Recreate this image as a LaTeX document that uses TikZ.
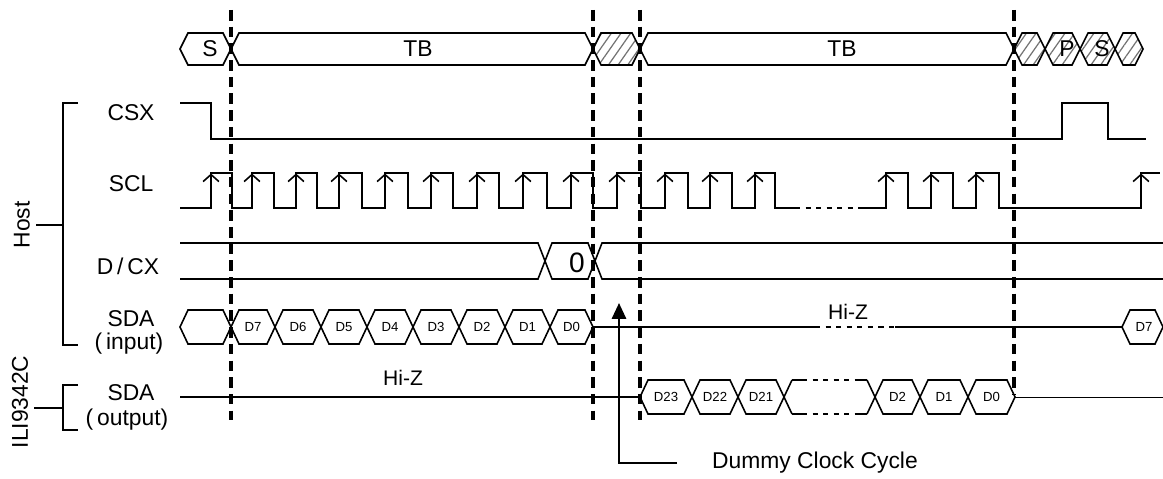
\documentclass[tikz,border=0pt]{standalone}
\usepackage{fontspec}
\setmainfont{Liberation Sans}
\usetikzlibrary{arrows.meta,patterns.meta}

\tikzset{
  wave/.style={line width=0.9pt},
  cut/.style={line width=2pt,dash pattern=on 6pt off 3.5pt},
  hatch/.style={pattern={Lines[angle=55,distance=4.5pt,line width=0.7pt]},pattern color=black!55},
  sig/.style={font=\fontsize{13}{15}\selectfont},
  bit/.style={font=\fontsize{7.5}{9}\selectfont},
  hiz/.style={font=\fontsize{12}{14}\selectfont},
}
\newcommand{\busbox}[5][]{\draw[wave,#1] (#2,#4) -- ++(8,-#5) -- (#3-8,#4-#5) -- (#3,#4) -- (#3-8,#4+#5) -- (#2+8,#4+#5) -- cycle;}

\begin{document}
\begin{tikzpicture}[x=0.02cm,y=-0.02cm]
\useasboundingbox (0,0) rectangle (1163,479);

  \node[sig] (csx) at (131,113) {CSX};
  \node[sig] (scl) at (131,184) {SCL};
  \node[sig] (dcx) at (128,266) {D\,/\,CX};
  \node[sig] (sdai) at (131,319) {SDA};
  \node[sig] (inp) at (129,344) {(\,input)};
  \node[sig] (sdao) at (131,393) {SDA};
  \node[sig] (outp) at (127,420) {(\,output)};
 \node[sig,rotate=90] (host) at (22,225) {Host};
 \node[sig,rotate=90] (ili) at (20,402) {ILI9342C};
 \coordinate (hb) at (63,225);
 \coordinate (ib) at (63,408);
\draw[wave] (78,103) -- (63,103) -- (63,345) -- (78,345);
\draw[wave] (78,385) -- (63,385) -- (63,430) -- (78,430);
\draw[wave] (host.south) -- (hb);
\draw[wave] (ili.south |- ib) -- (ib);

\busbox{180}{231}{49}{16}
\busbox{231}{593}{49}{16}
\busbox[hatch]{593}{640}{49}{16}
\busbox{640}{1014}{49}{16}
\busbox[hatch]{1014}{1045}{49}{16}
\busbox[hatch]{1045}{1080}{49}{16}
\busbox[hatch]{1080}{1115}{49}{16}
\busbox[hatch]{1115}{1143}{49}{16}
  \node[sig] (s1) at (210,49) {S};
  \node[sig] (tb1) at (418,49) {TB};
  \node[sig] (tb2) at (842,49) {TB};
  \node[sig] (p1) at (1067,49) {P};
  \node[sig] (s2) at (1102,49) {S};

\draw[wave] (180,103) -- (211,103) -- (211,139) -- (1062,139) -- (1062,103) -- (1108,103) -- (1108,139) -- (1146,139);

\draw[wave] (180,208) \foreach \r/\f in {211/232,252/274,296/317,339/362,385/408,431/453,477/499,523/547,571/593,617/641,665/688,710/732,755/775} { -- (\r,208) -- (\r,173) -- (\f,173) -- (\f,208) } -- (795,208);
\draw[wave,dashed,line width=1.4pt] (795,208) -- (863,208);
\draw[wave] (863,208) \foreach \r/\f in {886/908,931/953,976/999} { -- (\r,208) -- (\r,173) -- (\f,173) -- (\f,208) } -- (1141,208) -- (1141,173) -- (1160,173);
\foreach \r in {211,252,296,339,385,431,477,523,571,617,665,710,755,886,931,976,1141}
  \draw[wave,-{Straight Barb[length=4pt,width=9pt]}] (\r,195) -- (\r,173.5);

\draw[wave] (180,243) -- (538,243) -- (552,279) -- (588,279) -- (602,243) -- (1163,243);
\draw[wave] (180,279) -- (538,279) -- (552,243) -- (588,243) -- (602,279) -- (1163,279);
  \node[font=\fontsize{16}{18}\selectfont] (zero) at (577,263) {0};

\busbox{180}{231}{327}{17}
\foreach \a/\b/\t in {231/275/D7,275/321/D6,321/367/D5,367/413/D4,413/459/D3,459/505/D2,505/550/D1,550/593/D0} {
  \busbox{\a}{\b}{327}{17}
  \node[bit] (in\t) at ({(\a+\b)/2},327) {\t};
}
\draw[wave] (593,327) -- (815,327);
\draw[wave,dashed,line width=1.4pt] (815,327) -- (895,327);
\draw[wave] (895,327) -- (1122,327);
\busbox{1122}{1163}{327}{17}
  \node[bit] (in8) at (1144,327) {D7};
  \node[hiz] (hz1) at (848,312) {Hi-Z};

\draw[wave] (180,397) -- (640,397);
\foreach \a/\b/\t in {640/692/D23,692/738/D22,738/784/D21,875/920/D2,920/968/D1,968/1015/D0} {
  \busbox{\a}{\b}{397}{17}
  \node[bit] (out\t) at ({(\a+\b)/2},397) {\t};
}
\draw[wave] (792,380) -- (784,397) -- (792,414);
\draw[wave] (867,380) -- (875,397) -- (867,414);
\draw[wave] (792,380) -- (802,380);
\draw[wave] (860,380) -- (867,380);
\draw[wave] (792,414) -- (802,414);
\draw[wave] (860,414) -- (867,414);
\draw[wave,dashed,line width=1.4pt] (802,380) -- (860,380);
\draw[wave,dashed,line width=1.4pt] (802,414) -- (860,414);
\draw[line width=0.5pt] (1015,397) -- (1163,397);
  \node[hiz] (hz2) at (403,378) {Hi-Z};

\foreach \x in {231,593,640} \draw[cut] (\x,10) -- (\x,420);
\draw[cut] (1014,10) -- (1014,395);

 \coordinate (dtip) at (619,303);
 \coordinate (dend) at (677,463);
  \node[sig,anchor=west] (dcc) at (706,463) {Dummy Clock Cycle};
\draw[line width=1.4pt,-{Triangle[length=9pt,width=8pt]}] (dend) -| (dtip);

\end{tikzpicture}
\end{document}
